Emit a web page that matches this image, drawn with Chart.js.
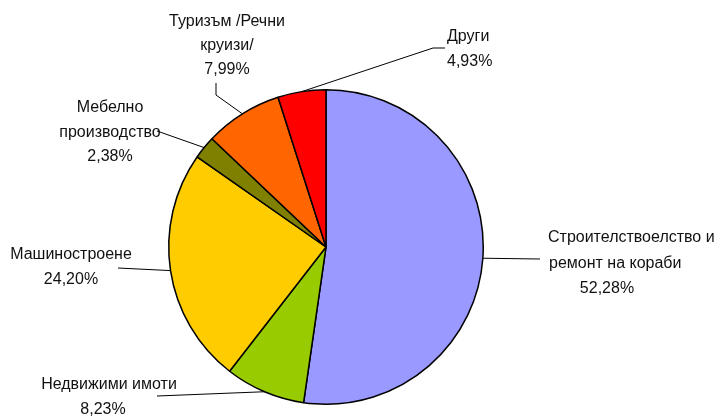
<!DOCTYPE html>
<html lang="bg">
<head>
  <meta charset="utf-8">
  <title>Pie chart</title>
  <script src="https://cdn.jsdelivr.net/npm/chart.js@4.4.1/dist/chart.umd.min.js"></script>
  <style>
    html, body { margin: 0; padding: 0; background: #fff; }
    #wrap { width: 721px; height: 417px; }
  </style>
</head>
<body>
  <div id="wrap"><canvas id="pieChart" width="721" height="417"></canvas></div>
  <script>
    // Data
    const categories = [
      ['Строителствоелство и', 'ремонт на кораби'],
      ['Недвижими имоти'],
      ['Машиностроене'],
      ['Мебелно', 'производство'],
      ['Туризъм /Речни', 'круизи/'],
      ['Други']
    ];
    const shares = [52.28, 8.23, 24.20, 2.38, 7.99, 4.93];
    const sliceColors = ['#9999FF', '#99CC00', '#FFCC00', '#808000', '#FF6600', '#FF0000'];

    // where each label sits (layout only): per-line x/align, first line y, line step, leader path
    const labelLayout = [
      { xs: [548, 549, 607], aligns: ['left', 'left', 'center'], y: 238, step: 25.5, leader: [[540, 259]] },
      { xs: [109, 103], aligns: ['center', 'center'], y: 385, step: 25, leader: [[157, 396]] },
      { xs: [71, 71], aligns: ['center', 'center'], y: 255, step: 25, leader: [[118, 268]] },
      { xs: [110, 110, 110], aligns: ['center', 'center', 'center'], y: 108, step: 24.5, leader: [[157, 131]] },
      { xs: [227, 227, 227], aligns: ['center', 'center', 'center'], y: 22, step: 24, leader: [[216, 95], [216, 83]] },
      { xs: [447, 447], aligns: ['left', 'left'], y: 37, step: 25, leader: [[433, 48], [445, 48]] }
    ];

    const fmt = v => v.toFixed(2).replace('.', ',') + '%';

    const labelPlugin = {
      id: 'pieLabels',
      afterDraw(chart) {
        const ctx = chart.ctx;
        const arcs = chart.getDatasetMeta(0).data;
        ctx.save();
        ctx.strokeStyle = '#000';
        ctx.lineWidth = 1;
        arcs.forEach((arc, i) => {
          const p = arc.getProps(['x', 'y', 'startAngle', 'endAngle', 'outerRadius'], true);
          const mid = (p.startAngle + p.endAngle) / 2;
          const ax = p.x + Math.cos(mid) * p.outerRadius;
          const ay = p.y + Math.sin(mid) * p.outerRadius;
          const lay = labelLayout[i];
          ctx.beginPath();
          ctx.moveTo(ax, ay);
          lay.leader.forEach(pt => ctx.lineTo(pt[0], pt[1]));
          ctx.stroke();

          const lines = categories[i].concat([fmt(shares[i])]);
          ctx.fillStyle = '#111';
          ctx.font = '16px "Liberation Sans", Arial, sans-serif';
          ctx.textBaseline = 'middle';
          lines.forEach((t, k) => {
            ctx.textAlign = lay.aligns[k];
            ctx.fillText(t, lay.xs[k], lay.y + k * lay.step);
          });
        });
        ctx.restore();
      }
    };

    new Chart(document.getElementById('pieChart'), {
      type: 'pie',
      data: {
        labels: categories.map(c => c.join(' ')),
        datasets: [{
          data: shares,
          backgroundColor: sliceColors,
          borderColor: '#000',
          borderWidth: 1.5
        }]
      },
      options: {
        responsive: false,
        animation: false,
        layout: { padding: { top: 89, bottom: 12, left: 0, right: 69 } },
        plugins: {
          legend: { display: false },
          tooltip: { enabled: false }
        }
      },
      plugins: [labelPlugin]
    });
  </script>
</body>
</html>
